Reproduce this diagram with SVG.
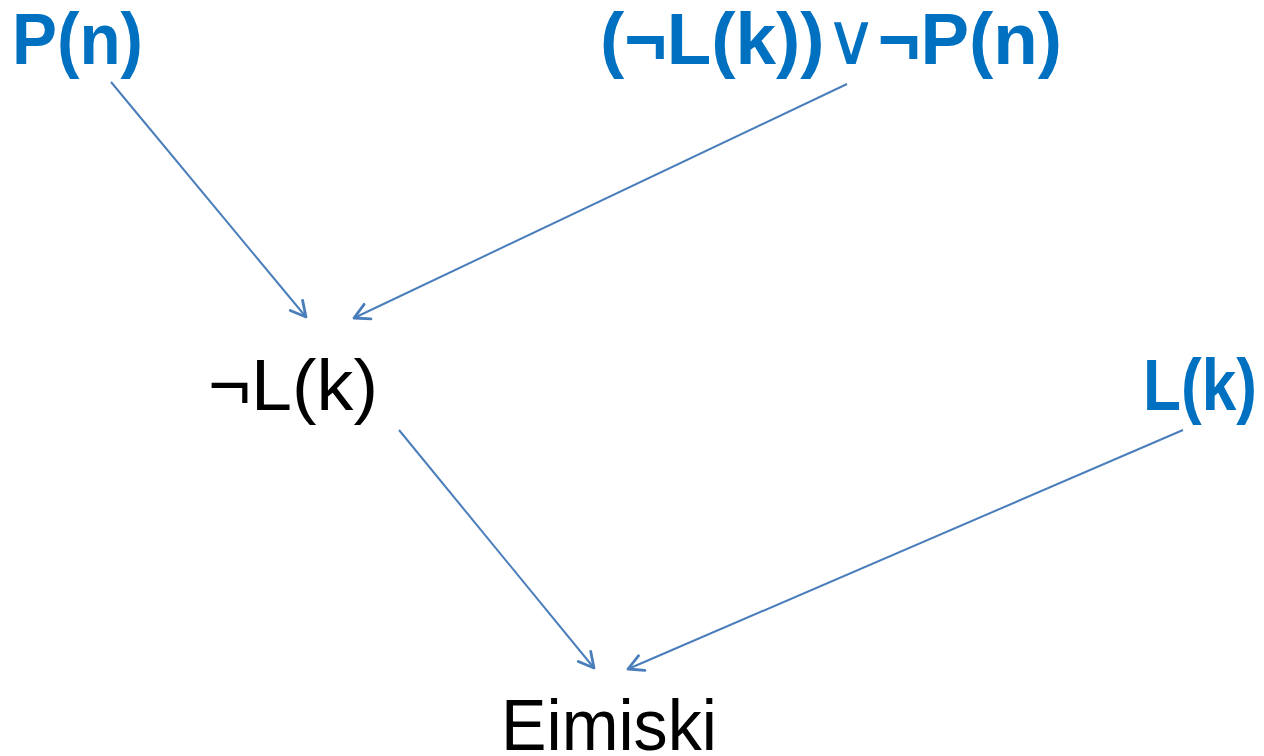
<svg xmlns="http://www.w3.org/2000/svg" width="1264" height="756" viewBox="0 0 1264 756">
  <style>
    .lbl { font-family: "Liberation Sans", "DejaVu Sans", sans-serif; font-size: 72px; }
    .given { fill: #0070C0; font-weight: bold; }
    .derived { fill: #000000; }
    .op { font-family: "DejaVu Sans", sans-serif; font-weight: normal; }
    .edge { stroke: #4A7EBB; stroke-width: 2; fill: none; marker-end: url(#arrow); }
  </style>
  <defs>
    <marker id="arrow" viewBox="0 0 20 24" refX="17" refY="12" markerWidth="20" markerHeight="24" markerUnits="userSpaceOnUse" orient="auto">
      <polyline points="2,4 17,12 2,20" fill="none" stroke="#4A7EBB" stroke-width="2.8" stroke-linecap="round" stroke-linejoin="round"/>
    </marker>
  </defs>
  <rect width="1264" height="756" fill="#FFFFFF"/>

  <g id="connectors">
    <line class="edge" x1="111" y1="82" x2="306" y2="317"/>
    <line class="edge" x1="847" y1="84" x2="354" y2="318"/>
    <line class="edge" x1="399" y1="430" x2="594" y2="668"/>
    <line class="edge" x1="1183" y1="430" x2="628" y2="669"/>
  </g>

  <g id="node-Pn">
    <text class="lbl given" x="12" y="64" textLength="131" lengthAdjust="spacingAndGlyphs">P(n)</text>
  </g>
  <g id="node-clause">
    <text class="lbl given" x="600" y="64" textLength="462" lengthAdjust="spacingAndGlyphs">(¬L(k))<tspan class="op">∨</tspan>¬P(n)</text>
  </g>
  <g id="node-notLk">
    <text class="lbl derived" x="208" y="410" textLength="170" lengthAdjust="spacingAndGlyphs">¬L(k)</text>
  </g>
  <g id="node-Lk">
    <text class="lbl given" x="1143" y="410" textLength="114" lengthAdjust="spacingAndGlyphs">L(k)</text>
  </g>
  <g id="node-empty">
    <text class="lbl derived" x="501" y="750" textLength="216" lengthAdjust="spacingAndGlyphs">Eimiski</text>
  </g>
</svg>
